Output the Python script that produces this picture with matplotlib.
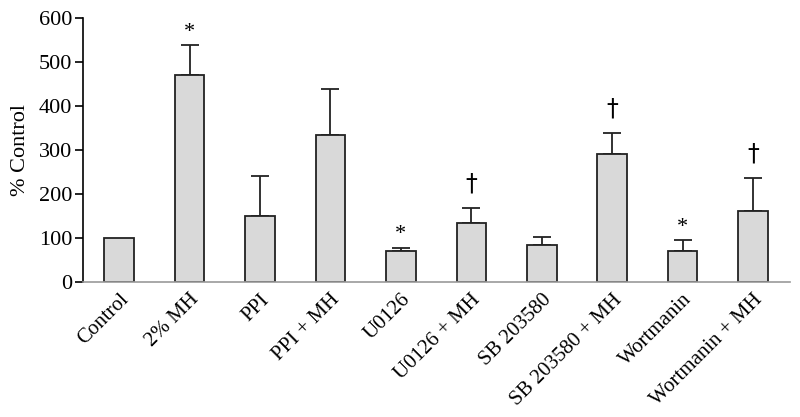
import matplotlib
matplotlib.use('Agg')
from matplotlib import pyplot as plt

groups = ['Control', '2% MH', 'PPI', 'PPI + MH', 'U0126', 'U0126 + MH',
          'SB 203580', 'SB 203580 + MH', 'Wortmanin', 'Wortmanin + MH']
means = [100, 471, 149, 334, 71, 133, 83, 291, 71, 161]
errors = [0, 67, 91, 105, 7, 36, 19, 47, 24, 75]
marks = ['', '*', '', '', '*', '\u2020', '', '\u2020', '*', '\u2020']

plt.rcParams['font.family'] = ['Liberation Serif', 'DejaVu Serif']

fig = plt.figure(figsize=(8, 4.17), dpi=100)
ax = fig.add_axes([0.104, 0.324, 0.884, 0.633])

x = list(range(len(groups)))
ax.bar(x, means, width=0.42, color='#d9d9d9', edgecolor='#222222', linewidth=1.3, zorder=2)
for xi, m, e in zip(x, means, errors):
    if e > 0:
        ax.errorbar(xi, m, yerr=[[0], [e]], fmt='none', ecolor='#222222',
                    elinewidth=1.3, capsize=6.5, capthick=1.3, zorder=1)

for xi, m, e, s in zip(x, means, errors, marks):
    if s == '*':
        ax.text(xi, m + e + 8, s, ha='center', va='bottom', fontsize=16)
    elif s:
        ax.text(xi, m + e + 28, s, ha='center', va='bottom', fontsize=17,
                family='DejaVu Sans')

ax.set_xlim(-0.51, 9.53)
ax.set_ylim(0, 600)
ax.set_yticks([0, 100, 200, 300, 400, 500, 600])
ax.tick_params(axis='y', labelsize=16, length=6, width=1.2, direction='out', pad=2)
ax.tick_params(axis='x', length=0, pad=6)
ax.set_xticks(x)
ax.set_xticklabels(groups, rotation=45, ha='right', rotation_mode='anchor', fontsize=15)
ax.set_ylabel('% Control', fontsize=16, labelpad=6)

for side in ['top', 'right']:
    ax.spines[side].set_visible(False)
ax.spines['left'].set_linewidth(1.2)
ax.spines['bottom'].set_color('#999999')
ax.spines['bottom'].set_linewidth(1.2)

plt.savefig('out.png')
